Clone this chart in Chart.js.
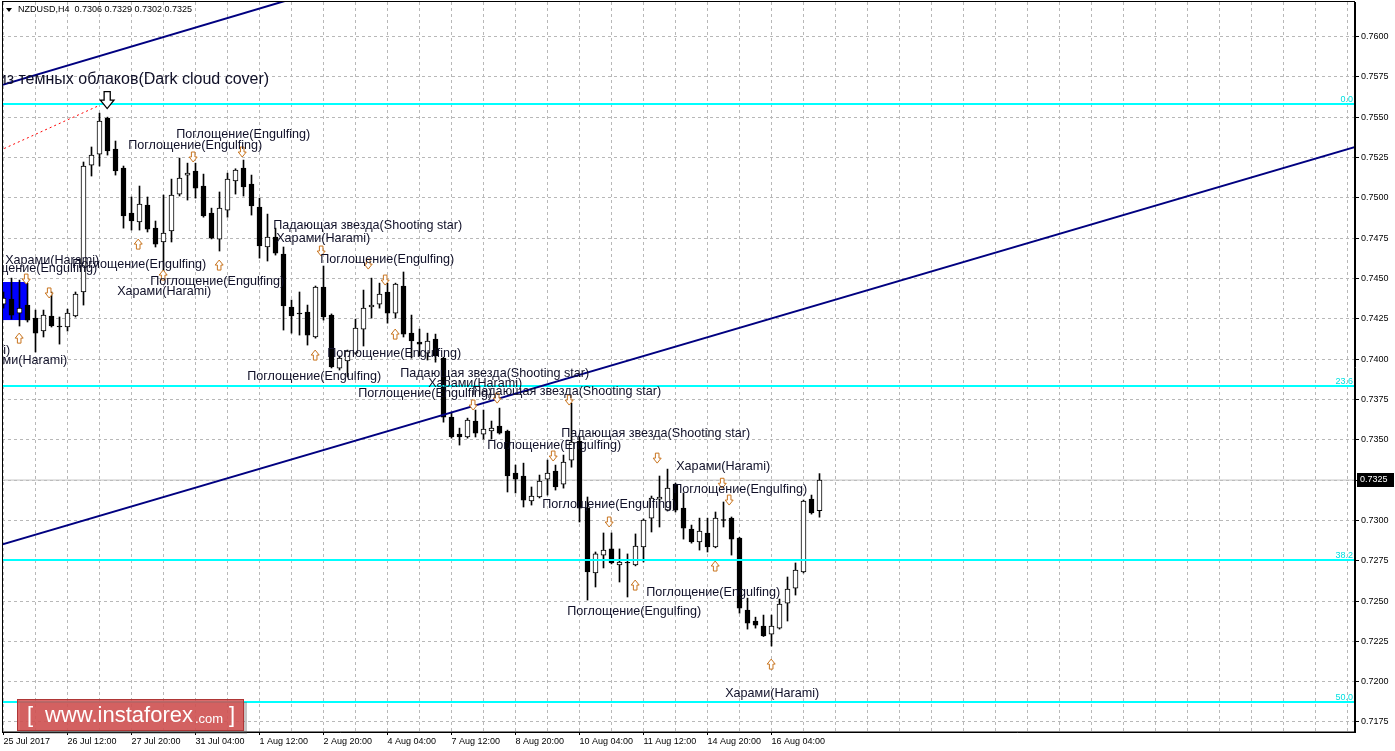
<!DOCTYPE html>
<html>
<head>
<meta charset="utf-8">
<script src="https://cdn.jsdelivr.net/npm/chart.js@4.4.1/dist/chart.umd.min.js"></script>
<style>
html,body{margin:0;padding:0;background:#fff;overflow:hidden}
#wrap{position:relative;width:1395px;height:751px}
</style>
</head>
<body>
<div id="wrap"><canvas id="c" width="1395" height="751"></canvas></div>
<script>
// ---------------- DATA ----------------
const symbol = 'NZDUSD,H4';
const timeLabels = ['25 Jul 2017','26 Jul 12:00','27 Jul 20:00','31 Jul 04:00','1 Aug 12:00','2 Aug 20:00','4 Aug 04:00','7 Aug 12:00','8 Aug 20:00','10 Aug 04:00','11 Aug 12:00','14 Aug 20:00','16 Aug 04:00'];
const yTicks = [0.7175,0.7200,0.7225,0.7250,0.7275,0.7300,0.7325,0.7350,0.7375,0.7400,0.7425,0.7450,0.7475,0.7500,0.7525,0.7550,0.7575,0.7600];

const opens = [.74341,.74372,.74285,.74335,.74254,.74174,.74267,.74205,.74199,.74267,
.74416,.75203,.75271,.75494,.75302,.75184,.74905,.74850,.74955,.74812,
.74726,.74794,.75023,.75141,.75166,.75073,.74905,.74744,.74924,.75104,
.75184,.75085,.74943,.74695,.74757,.74651,.74323,.74285,.74292,.74137,
.74447,.74273,.73944,.73988,.74037,.74186,.74323,.74341,.74416,.74285,
.74453,.74161,.74106,.74037,.74124,.74006,.73640,.73535,.73517,.73616,
.73535,.73554,.73584,.73554,.73294,.73275,.73120,.73145,.73256,.73306,
.73225,.73374,.73492,.73076,.72674,.72785,.72823,.72724,.72740,.72724,
.72835,.73014,.73132,.73064,.73225,.73076,.72946,.72866,.72922,.72835,
.73005,.73014,.72890,.72444,.72376,.72345,.72295,.72332,.72487,.72580,
.72680,.73132,.73060];
const highs = [.74416,.74502,.74490,.74471,.74304,.74304,.74416,.74261,.74310,.74416,
.75222,.75315,.75525,.75500,.75352,.75197,.75005,.75073,.75005,.74856,
.75017,.75116,.75246,.75215,.75215,.75147,.74936,.75036,.75153,.75180,
.75234,.75141,.74998,.74899,.74812,.74695,.74366,.74416,.74335,.74453,
.74577,.74280,.74019,.74056,.74248,.74428,.74502,.74471,.74471,.74471,
.74540,.74273,.74186,.74161,.74155,.74012,.73671,.73572,.73634,.73684,
.73684,.73616,.73696,.73560,.73343,.73355,.73207,.73281,.73374,.73343,
.73405,.73727,.73517,.73145,.72804,.72922,.72922,.72823,.72792,.72916,
.73009,.73151,.73275,.73318,.73231,.73170,.72971,.73014,.73014,.73052,
.73114,.73021,.72895,.72518,.72400,.72413,.72413,.72512,.72649,.72736,
.73126,.73157,.73290];
const lows = [.74316,.74248,.74205,.74230,.74044,.74137,.74199,.74093,.74174,.74261,
.74335,.75135,.75197,.75265,.75141,.74812,.74800,.74800,.74788,.74695,
.74533,.74726,.75011,.74986,.74998,.74880,.74745,.74670,.74880,.75023,
.75011,.74893,.74626,.74608,.74645,.74180,.74161,.74149,.74087,.74130,
.74242,.73945,.73932,.73889,.74030,.74081,.74254,.74316,.74223,.74254,
.74137,.74006,.74019,.73994,.73981,.73609,.73510,.73467,.73510,.73517,
.73504,.73504,.73535,.73176,.73170,.73083,.73095,.73139,.73157,.73188,
.73200,.73330,.72990,.72506,.72587,.72705,.72730,.72618,.72525,.72718,
.72742,.72928,.72959,.73058,.73052,.72884,.72859,.72816,.72804,.72830,
.72959,.72785,.72425,.72326,.72332,.72280,.72221,.72326,.72376,.72537,
.72674,.73039,.73020];
const closes = [.74378,.74273,.74316,.74242,.74161,.74273,.74205,.74200,.74285,.74403,
.75197,.75265,.75476,.75290,.75166,.74887,.74856,.74961,.74806,.74713,
.74781,.75017,.75122,.75153,.75060,.74887,.74750,.74936,.75116,.75172,
.75067,.74949,.74701,.74757,.74657,.74329,.74267,.74280,.74149,.74447,
.74261,.73951,.74006,.74050,.74192,.74316,.74335,.74403,.74285,.74465,
.74155,.74112,.74093,.74112,.74019,.73640,.73517,.73517,.73622,.73541,
.73566,.73572,.73541,.73275,.73256,.73126,.73151,.73244,.73294,.73207,
.73362,.73486,.73076,.72680,.72792,.72816,.72736,.72742,.72736,.72841,
.73002,.73138,.73145,.73200,.73064,.72952,.72866,.72934,.72835,.73014,
.73000,.72884,.72456,.72363,.72351,.72283,.72345,.72481,.72574,.72692,
.73120,.73046,.73250];

// Fibonacci levels (price) and their labels
const fibLevels = [0.75581, 0.73833, 0.72754, 0.71874];
const fibNames  = ['0.0', '23.6', '38.2', '50.0'];
// trend lines: [bar index, price] endpoints
const trendUpper = [[-1.69, 0.75677], [37.06, 0.76248]];
const trendLower = [[-1.69, 0.72829], [170.8, 0.75342]];
const redDotted  = [[-1.06, 0.75280], [11.81, 0.75569]];
// blue rectangle: bar index range, price range
const boxIdx = [-0.45, 3.0];
const boxPrice = [0.74478, 0.74242];

// pattern notes
const noteText = [
 'Завеса из темных облаков(Dark cloud cover)',
 'Поглощение(Engulfing)','Поглощение(Engulfing)','Падающая звезда(Shooting star)','Харами(Harami)',
 'Поглощение(Engulfing)','Харами(Harami)','Поглощение(Engulfing)','Поглощение(Engulfing)','Харами(Harami)',
 'Поглощение(Engulfing)','Харами(Harami)','Харами(Harami)','Поглощение(Engulfing)','Поглощение(Engulfing)',
 'Падающая звезда(Shooting star)','Харами(Harami)','Поглощение(Engulfing)','Падающая звезда(Shooting star)','Падающая звезда(Shooting star)',
 'Поглощение(Engulfing)','Харами(Harami)','Поглощение(Engulfing)','Поглощение(Engulfing)','Поглощение(Engulfing)',
 'Поглощение(Engulfing)','Харами(Harami)'];
const noteIdx = [33.2, 21.59,15.59,33.71,34.09, 39.59,0.21,11.71,8.59,14.21,
 18.34,0.84,7.96,40.46,30.46, 49.59,53.09,44.34,58.59,69.71,
 60.46,84.09,83.71,67.34,80.34, 70.46,90.21];
const notePrice = [0.75730, 0.75395,0.75327,0.74831,0.74750, 0.74620,0.74614,0.74564,0.74589,0.74416,
 0.74478,0.74056,0.73994,0.74037,0.73889, 0.73913,0.73851,0.73789,0.73802,0.73540,
 0.73467,0.73331,0.73194,0.73101,0.72550, 0.72432,0.71929];
const noteAlign = ['right','left','left','left','left','left','left','right','left','left',
 'left','right','right','left','left','left','left','left','left','left',
 'left','left','left','left','left','left','left'];

// pattern arrows
const downIdx = [2.84,5.71,23.71,29.84,39.71,45.59,47.71,58.71,61.71,68.71,70.71,75.71,81.71,89.84,90.71];
const downPrice = [0.74496,0.74410,0.75253,0.75284,0.74670,0.74589,0.74490,0.73715,0.73758,0.73399,0.73746,0.72990,0.73386,0.73230,0.73126];
const upIdx = [1.96,16.84,19.96,26.96,38.96,48.96,78.96,88.96,95.96];
const upPrice = [0.74130,0.74713,0.74521,0.74583,0.74025,0.74155,0.72599,0.72717,0.72109];
const bigArrow = [12.96, 0.75606];

// ---------------- CHART ----------------
const last = closes.length - 1;
const gridIdx = [];
for (let g = 0; g <= 168; g += 4) gridIdx.push(g);

function drawArrow(ctx, cx, cy, dir, s, stroke, lw) {
  const hw = 4 * s, sw = 1.8 * s, h = 5 * s;
  ctx.beginPath();
  ctx.moveTo(cx - sw, cy - dir * h);
  ctx.lineTo(cx + sw, cy - dir * h);
  ctx.lineTo(cx + sw, cy);
  ctx.lineTo(cx + hw, cy);
  ctx.lineTo(cx, cy + dir * h);
  ctx.lineTo(cx - hw, cy);
  ctx.lineTo(cx - sw, cy);
  ctx.closePath();
  ctx.fillStyle = '#ffffff';
  ctx.fill();
  ctx.strokeStyle = stroke;
  ctx.lineWidth = lw;
  ctx.stroke();
}

const overlay = {
  id: 'overlay',
  beforeDatasetsDraw(chart) {
    const {ctx, chartArea: a, scales: {x, y}} = chart;
    ctx.save();
    ctx.beginPath(); ctx.rect(a.left, a.top, a.right - a.left, a.bottom - a.top); ctx.clip();
    const x1 = x.getPixelForValue(boxIdx[0]), x2 = x.getPixelForValue(boxIdx[1]);
    const y1 = y.getPixelForValue(boxPrice[0]), y2 = y.getPixelForValue(boxPrice[1]);
    ctx.fillStyle = '#0000ff';
    ctx.fillRect(x1, y1, x2 - x1, y2 - y1);
    ctx.restore();
  },
  afterDatasetsDraw(chart) {
    const {ctx, chartArea: a, scales: {x, y}} = chart;
    ctx.save();
    ctx.beginPath(); ctx.rect(a.left, a.top, a.right - a.left, a.bottom - a.top); ctx.clip();
    // arrows
    downIdx.forEach((v, i) => drawArrow(ctx, x.getPixelForValue(v), y.getPixelForValue(downPrice[i]), 1, 1, '#c8741e', 1));
    upIdx.forEach((v, i) => drawArrow(ctx, x.getPixelForValue(v), y.getPixelForValue(upPrice[i]), -1, 1, '#c8741e', 1));
    drawArrow(ctx, x.getPixelForValue(bigArrow[0]), y.getPixelForValue(bigArrow[1]), 1, 1.7, '#000000', 1.3);
    // notes
    ctx.textBaseline = 'middle';
    ctx.fillStyle = '#101028';
    noteText.forEach((t, i) => {
      ctx.font = (i === 0 ? '16px' : '12.6px') + ' "Liberation Sans", Arial, sans-serif';
      ctx.textAlign = noteAlign[i];
      ctx.fillText(t, x.getPixelForValue(noteIdx[i]), y.getPixelForValue(notePrice[i]));
    });
    // fib labels
    ctx.font = '9px "Liberation Sans", Arial, sans-serif';
    ctx.fillStyle = '#00e0e0';
    ctx.textAlign = 'right';
    ctx.textBaseline = 'alphabetic';
    fibLevels.forEach((lv, i) => ctx.fillText(fibNames[i], a.right - 2, y.getPixelForValue(lv) - 2));
    ctx.restore();
  },
  afterDraw(chart) {
    const {ctx, chartArea: a, scales: {y}} = chart;
    ctx.save();
    // frame
    ctx.strokeStyle = '#000'; ctx.lineWidth = 1;
    ctx.strokeRect(a.left + 0.5, a.top - 0.5, a.right - a.left - 1, a.bottom - a.top + 0.5);
    // title
    ctx.fillStyle = '#000';
    ctx.beginPath(); ctx.moveTo(6, 8); ctx.lineTo(12, 8); ctx.lineTo(9, 12); ctx.closePath(); ctx.fill();
    ctx.font = '9px "Liberation Sans", Arial, sans-serif';
    ctx.textBaseline = 'middle'; ctx.textAlign = 'left';
    ctx.fillText(symbol + '  ' + opens[last].toFixed(4) + ' ' + highs[last].toFixed(4) + ' ' + lows[last].toFixed(4) + ' ' + closes[last].toFixed(4), 18, 10);
    // price tag
    const py = Math.round(y.getPixelForValue(closes[last]));
    ctx.fillStyle = '#000';
    ctx.fillRect(a.right + 2, py - 7, 37, 14);
    ctx.fillStyle = '#fff';
    ctx.fillText(closes[last].toFixed(4), a.right + 5, py);
    // logo
    ctx.fillStyle = 'rgba(90,90,90,0.35)';
    ctx.fillRect(20, 702, 227, 32);
    ctx.fillStyle = 'rgba(214,80,80,0.85)';
    ctx.fillRect(17, 699, 227, 32);
    ctx.strokeStyle = 'rgba(170,50,50,0.9)';
    ctx.strokeRect(17.5, 699.5, 226, 31);
    ctx.fillStyle = '#ffffff';
    ctx.textBaseline = 'middle';
    ctx.font = '22px "Liberation Sans", Arial, sans-serif';
    ctx.fillText('[', 27, 716);
    ctx.fillText('www.instaforex', 45, 716);
    ctx.font = '13px "Liberation Sans", Arial, sans-serif';
    ctx.fillText('.com', 195, 719);
    ctx.font = '22px "Liberation Sans", Arial, sans-serif';
    ctx.fillText(']', 229, 716);
    ctx.restore();
  }
};

const lineDs = (pts, color, width, dash, order) => ({
  type: 'line', data: pts.map(p => ({x: p[0], y: p[1]})),
  borderColor: color, borderWidth: width, borderDash: dash, pointRadius: 0, fill: false, order: order
});

const datasets = [
  {
    type: 'bar', label: 'body',
    data: opens.map((o, i) => ({x: i, y: [o, closes[i]]})),
    backgroundColor: opens.map((o, i) => closes[i] > o ? '#ffffff' : '#000000'),
    borderColor: '#000000', borderWidth: 1, borderSkipped: false,
    barThickness: 5, grouped: false, order: 2
  },
  {
    type: 'bar', label: 'wick',
    data: lows.map((l, i) => ({x: i, y: [l, highs[i]]})),
    backgroundColor: '#000000', borderWidth: 0,
    barThickness: 1, grouped: false, order: 3
  },
  lineDs([[-1, closes[last]], [175, closes[last]]], '#c0c0c0', 1, [], 4),
  lineDs(trendUpper, '#000080', 2, [], 1),
  lineDs(trendLower, '#000080', 2, [], 1),
  lineDs(redDotted, '#ff0000', 1, [2, 3], 1),
  ...fibLevels.map(lv => lineDs([[-1, lv], [175, lv]], '#00ffff', 2, [], 1))
];

new Chart(document.getElementById('c'), {
  type: 'bar',
  data: {datasets},
  options: {
    responsive: false, animation: false, devicePixelRatio: 1,
    layout: {padding: {left: 2, top: 2, right: 0, bottom: 0}},
    plugins: {legend: {display: false}, tooltip: {enabled: false}},
    scales: {
      x: {
        type: 'linear', min: -0.1875, max: 168.9375, offset: false,
        afterFit: s => { s.height = 19; s.paddingLeft = 0; s.paddingRight = 0; },
        afterBuildTicks: s => { s.ticks = gridIdx.map(v => ({value: v})); },
        grid: {offset: false, color: '#b8b8b8', lineWidth: 1, tickLength: 3,
          tickColor: c => (c.tick && c.tick.value % 8 === 0 && timeLabels[c.tick.value / 8]) ? '#000' : 'rgba(0,0,0,0)'},
        border: {display: true, color: '#000', width: 1, dash: [3, 3]},
        ticks: {
          autoSkip: false, maxRotation: 0, minRotation: 0, align: 'start', padding: 1,
          color: '#000', font: {family: '"Liberation Sans", Arial, sans-serif', size: 9},
          callback: v => (v % 8 === 0 && timeLabels[v / 8]) ? timeLabels[v / 8] : ''
        }
      },
      y: {
        type: 'linear', position: 'right', min: 0.71688, max: 0.76214, beginAtZero: false,
        afterFit: s => { s.width = 40; s.paddingTop = 0; s.paddingBottom = 0; },
        afterBuildTicks: s => { s.ticks = yTicks.map(v => ({value: v})); },
        grid: {color: '#b8b8b8', lineWidth: 1, tickLength: 4, tickColor: '#000'},
        border: {display: true, color: '#000', width: 1, dash: [3, 3]},
        ticks: {
          autoSkip: false, padding: 2, color: '#000',
          font: {family: '"Liberation Sans", Arial, sans-serif', size: 9},
          callback: v => v.toFixed(4)
        }
      }
    }
  },
  plugins: [overlay]
});
</script>
</body>
</html>
